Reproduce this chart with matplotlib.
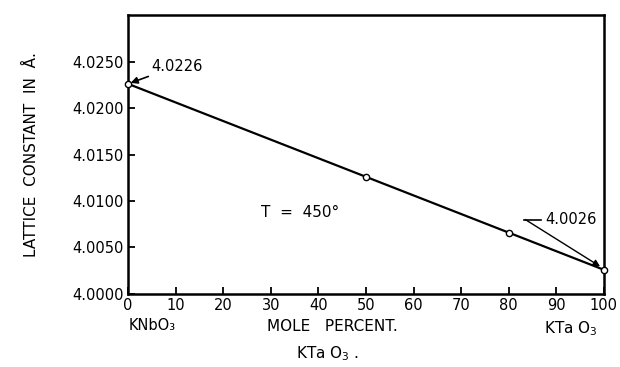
import matplotlib
matplotlib.use("Agg")
import matplotlib.pyplot as plt

mole_percent = [0, 50, 80, 100]
lattice = [4.0226, 4.0126, 4.0066, 4.0026]
x_ticks = [0, 10, 20, 30, 40, 50, 60, 70, 80, 90, 100]
y_ticks = [4.0000, 4.0050, 4.0100, 4.0150, 4.0200, 4.0250]
y_tick_labels = ["4.0000", "4.0050", "4.0100", "4.0150", "4.0200", "4.0250"]

plt.rcParams['font.family'] = ['DejaVu Sans']
fig = plt.figure(figsize=(6.2, 3.67), dpi=100)
ax = fig.add_axes([0.2065, 0.199, 0.7675, 0.76])

ax.plot([mole_percent[0], mole_percent[-1]], [lattice[0], lattice[-1]], color='black', lw=1.6, zorder=2)
ax.plot(mole_percent, lattice, 'o', ms=4.5, mfc='white', mec='black', mew=1.0, zorder=3, clip_on=False)

ax.set_xlim(0, 100)
ax.set_ylim(4.0000, 4.0300)
ax.set_xticks(x_ticks)
ax.set_xticklabels([str(v) for v in x_ticks], fontsize=10.5)
ax.set_yticks(y_ticks)
ax.set_yticklabels(y_tick_labels, fontsize=10.5)
ax.tick_params(direction='in', length=5, width=1.3, pad=3)
for s in ax.spines.values():
    s.set_linewidth(1.8)

ax.set_ylabel("LATTICE  CONSTANT  IN  Å.", fontsize=11, labelpad=24)

ax.annotate("4.0226", xy=(mole_percent[0], lattice[0]), xytext=(4.8, 4.0245),
            fontsize=10.5, va='center', ha='left',
            arrowprops=dict(arrowstyle='-|>', color='black', lw=1.2, shrinkA=0, shrinkB=2, mutation_scale=10))
ax.text(87.7, 4.0080, "4.0026", fontsize=10.5, va='center', ha='left')
ax.plot([83.2, 86.8], [4.0080, 4.0080], color='black', lw=1.2)
ax.annotate("", xy=(mole_percent[-1] - 0.3, lattice[-1] + 0.0002), xytext=(83.5, 4.0080),
            arrowprops=dict(arrowstyle='-|>', color='black', lw=1.0, shrinkA=0, shrinkB=2, mutation_scale=10))

ax.text(28, 4.0088, "T  =  450°", fontsize=11, va='center', ha='left')

ax.text(0.05, -0.085, "KNbO₃", transform=ax.transAxes, fontsize=10.5, ha='center', va='top')
ax.text(0.43, -0.09, "MOLE   PERCENT.", transform=ax.transAxes, fontsize=11, ha='center', va='top')
ax.text(0.93, -0.09, "KTa O$_3$", transform=ax.transAxes, fontsize=11, ha='center', va='top')
ax.text(0.42, -0.18, "KTa O$_3$ .", transform=ax.transAxes, fontsize=11, ha='center', va='top')

fig.savefig("out.png", dpi=100)
